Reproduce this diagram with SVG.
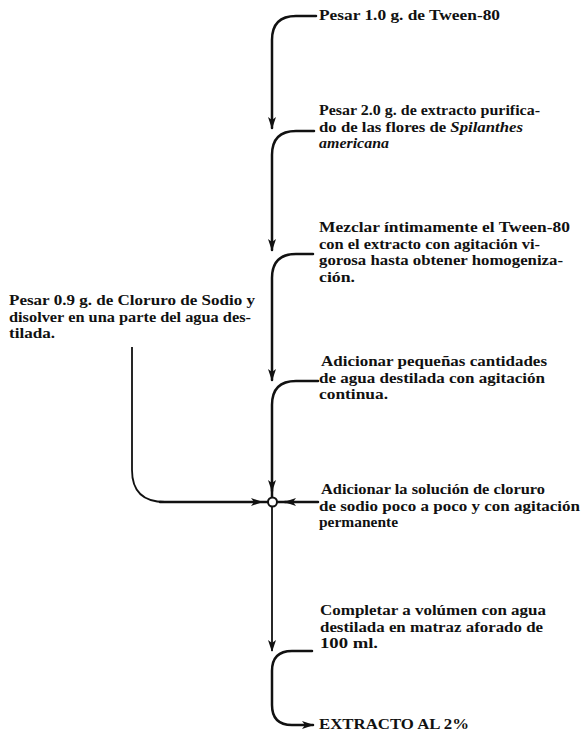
<svg xmlns="http://www.w3.org/2000/svg" width="582" height="735" viewBox="0 0 582 735">
<defs>
<style>
text{font-family:"Liberation Serif","Times New Roman",serif;font-weight:bold;font-size:14.5px;fill:#111}
.it{font-style:italic}
.ln{fill:none;stroke:#111;stroke-width:2.5;stroke-linecap:round}
.thin{fill:none;stroke:#111;stroke-width:1.8}
</style>
<marker id="arr" markerUnits="userSpaceOnUse" markerWidth="12" markerHeight="8" refX="11" refY="4" orient="auto">
<path d="M0,0 L12,4 L0,8 L3,4 z" fill="#111"/>
</marker>
</defs>
<rect width="582" height="735" fill="#fff"/>
<g id="connectors">
<path class="ln" d="M316 16 H296 Q272 16 272 40 V128" marker-end="url(#arr)"/>
<path class="ln" d="M314 131 H296 Q272 131 272 155 V250" marker-end="url(#arr)"/>
<path class="ln" d="M313 254 H296 Q272 254 272 278 V380" marker-end="url(#arr)"/>
<path class="ln" d="M318 381 H296 Q272 381 272 405 V491" marker-end="url(#arr)"/>
<path class="ln" d="M272 488 V497"/>
<path class="thin" d="M132 347 V470 Q132 502 165 502 H262" marker-end="url(#arr)"/>
<path class="ln" d="M160 502 H268"/>
<path class="ln" d="M318 502 H285" marker-end="url(#arr)"/>
<path class="ln" d="M290 502 H277"/>
<circle cx="272.5" cy="502" r="4.5" fill="#fff" stroke="#111" stroke-width="2"/>
<path class="thin" d="M272 507 V651" marker-end="url(#arr)"/>
<path class="ln" d="M312 651 H292 Q272 651 272 671 V705 Q272 725 292 725 H313" marker-end="url(#arr)"/>
</g>
<g id="n1"><text x="319" y="20" textLength="181" lengthAdjust="spacingAndGlyphs">Pesar 1.0 g. de Tween-80</text></g>
<g id="n2">
<text x="319" y="115" textLength="221" lengthAdjust="spacingAndGlyphs">Pesar 2.0 g. de extracto purifica-</text>
<text x="319" y="131.5" textLength="204" lengthAdjust="spacingAndGlyphs">do de las flores de <tspan class="it">Spilanthes</tspan></text>
<text x="319" y="148" class="it" textLength="70" lengthAdjust="spacingAndGlyphs">americana</text>
</g>
<g id="n3">
<text x="319" y="232" textLength="251" lengthAdjust="spacingAndGlyphs">Mezclar íntimamente el Tween-80</text>
<text x="319" y="248.5" textLength="221" lengthAdjust="spacingAndGlyphs">con el extracto con agitación vi-</text>
<text x="319" y="265" textLength="244" lengthAdjust="spacingAndGlyphs">gorosa hasta obtener homogeniza-</text>
<text x="319" y="281.5" textLength="36" lengthAdjust="spacingAndGlyphs">ción.</text>
</g>
<g id="n4">
<text x="9" y="305" textLength="246" lengthAdjust="spacingAndGlyphs">Pesar 0.9 g. de Cloruro de Sodio y</text>
<text x="9" y="321.5" textLength="242" lengthAdjust="spacingAndGlyphs">disolver en una parte del agua des-</text>
<text x="9" y="338" textLength="46" lengthAdjust="spacingAndGlyphs">tilada.</text>
</g>
<g id="n5">
<text x="321" y="366" textLength="226" lengthAdjust="spacingAndGlyphs">Adicionar pequeñas cantidades</text>
<text x="319" y="382.5" textLength="226" lengthAdjust="spacingAndGlyphs">de agua destilada con agitación</text>
<text x="319" y="399" textLength="69" lengthAdjust="spacingAndGlyphs">continua.</text>
</g>
<g id="n6">
<text x="321" y="494" textLength="224" lengthAdjust="spacingAndGlyphs">Adicionar la solución de cloruro</text>
<text x="319" y="510.5" textLength="261" lengthAdjust="spacingAndGlyphs">de sodio poco a poco y con agitación</text>
<text x="319" y="527" textLength="79" lengthAdjust="spacingAndGlyphs">permanente</text>
</g>
<g id="n7">
<text x="320" y="615" textLength="226" lengthAdjust="spacingAndGlyphs">Completar a volúmen con agua</text>
<text x="320" y="631.5" textLength="223" lengthAdjust="spacingAndGlyphs">destilada en matraz aforado de</text>
<text x="320" y="648" textLength="58" lengthAdjust="spacingAndGlyphs">100 ml.</text>
</g>
<g id="n8"><text x="319" y="729" textLength="150" lengthAdjust="spacingAndGlyphs">EXTRACTO AL 2%</text></g>
</svg>
